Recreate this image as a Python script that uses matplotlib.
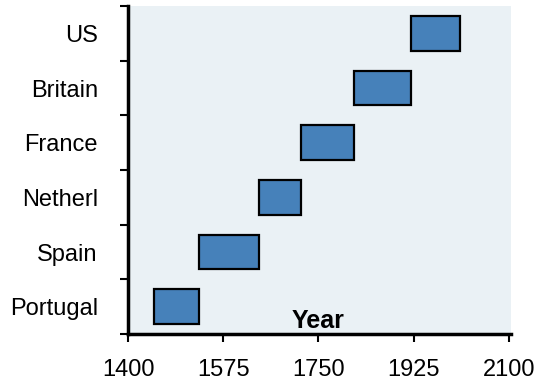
import numpy as np
import matplotlib
matplotlib.use("Agg")
import matplotlib.pyplot as plt
from matplotlib.ticker import FixedLocator

plt.rcParams['font.family'] = ['Liberation Sans', 'DejaVu Sans']

# powers and their (approximate) span of dominance
countries = ["Portugal", "Spain", "Netherl", "France", "Britain", "US"]
start_year = [1448, 1530, 1640, 1718, 1815, 1920]
end_year = [1531, 1640, 1718, 1815, 1921, 2010]
xticks = [1400, 1575, 1750, 1925, 2100]

fig = plt.figure(figsize=(5.5, 3.86), dpi=100)
ax = fig.add_axes([0.2333, 0.1347, 0.6965, 0.8497])
ax.set_facecolor("#eaf1f5")

y = np.arange(len(countries))
widths = np.array(end_year) - np.array(start_year)
ax.barh(y, widths, left=start_year, height=0.63, color="#4681ba",
        edgecolor="black", linewidth=1.6)

ax.set_xlim(1400, 2105)
ax.set_ylim(-0.5, len(countries) - 0.5)
ax.set_xticks(xticks)
ax.set_yticks(y)
ax.set_yticklabels(countries)
ax.yaxis.set_minor_locator(FixedLocator(np.arange(-0.5, len(countries), 1.0)))

ax.tick_params(axis="x", length=6, width=1.5, labelsize=17, pad=12, direction="out")
ax.tick_params(axis="y", which="major", length=0, labelsize=17, pad=22)
ax.tick_params(axis="y", which="minor", length=6, width=1.5, direction="out")

for s in ["top", "right"]:
    ax.spines[s].set_visible(False)
for s in ["left", "bottom"]:
    ax.spines[s].set_linewidth(2.5)

ax.text(1750, -0.49, "Year", ha="center", va="bottom", fontsize=18, fontweight="bold")

fig.savefig("out.png", dpi=100)
